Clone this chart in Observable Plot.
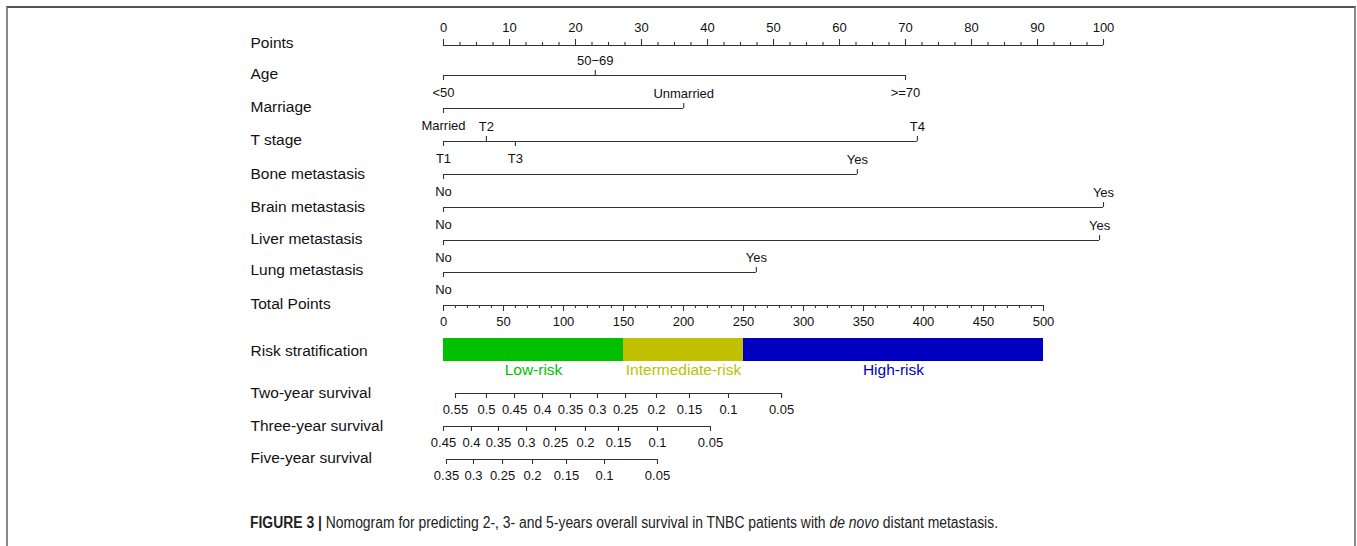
<!DOCTYPE html>
<html>
<head>
<meta charset="utf-8">
<script src="https://cdn.jsdelivr.net/npm/d3@7"></script>
<script src="https://cdn.jsdelivr.net/npm/@observablehq/plot@0.6"></script>
<style>
  html, body { margin: 0; padding: 0; background: #fff; }
  body { width: 1357px; height: 546px; position: relative; overflow: hidden; font-family: "Liberation Sans", Arial, sans-serif; }
  #frame { position: absolute; left: 6px; top: 6px; width: 1346px; height: 600px; border-top: 2px solid #555; border-left: 2px solid #888; border-right: 2px solid #888; z-index: 5; pointer-events: none; }
  #chart { position: absolute; left: 0; top: 0; }
  #caption { position: absolute; left: 250px; top: 514px; font-size: 16px; color: #222; white-space: nowrap; transform-origin: left center; }
  #caption b { font-weight: bold; }
</style>
</head>
<body>
<div id="chart"></div>
<div id="frame"></div>
<div id="caption"><b>FIGURE 3 |</b> Nomogram for predicting 2-, 3- and 5-years overall survival in TNBC patients with <i>de novo</i> distant metastasis.</div>
<script>
// ---------- data ----------
const rowNames = ["Points", "Age", "Marriage", "T stage", "Bone metastasis", "Brain metastasis",
  "Liver metastasis", "Lung metastasis", "Total Points", "Risk stratification",
  "Two-year survival", "Three-year survival", "Five-year survival"];

const pointsTickLabels = [0, 10, 20, 30, 40, 50, 60, 70, 80, 90, 100];
const pointsMinorStep = 2.5;
const totalTickLabels = [0, 50, 100, 150, 200, 250, 300, 350, 400, 450, 500];
const totalMinorStep = 10;

const ageLevels = ["<50", "50−69", ">=70"];
const agePoints = [0, 23, 70];
const ageAbove = [false, true, false];

const marriageLevels = ["Married", "Unmarried"];
const marriagePoints = [0, 36.4];
const marriageAbove = [false, true];

const tLevels = ["T1", "T2", "T3", "T4"];
const tPoints = [0, 6.5, 10.9, 71.8];
const tAbove = [false, true, false, true];

const binLevels = ["No", "Yes"];
const bonePoints = [0, 62.7];
const brainPoints = [0, 100];
const liverPoints = [0, 99.4];
const lungPoints = [0, 47.4];

const riskGroups = ["Low-risk", "Intermediate-risk", "High-risk"];
const riskBreaks = [0, 150, 250, 500];
const riskColors = ["#00c000", "#c0c000", "#0000c0"];

const twoYearLabels = ["0.55", "0.5", "0.45", "0.4", "0.35", "0.3", "0.25", "0.2", "0.15", "0.1", "0.05"];
const twoYearTotal = [10, 35.8, 59.2, 82.5, 105.8, 128.3, 151.7, 177.5, 205, 237.5, 281.7];
const threeYearLabels = ["0.45", "0.4", "0.35", "0.3", "0.25", "0.2", "0.15", "0.1", "0.05"];
const threeYearTotal = [0, 23.3, 45.8, 69.2, 93.3, 118.3, 145.8, 178.3, 222.5];
const fiveYearLabels = ["0.35", "0.3", "0.25", "0.2", "0.15", "0.1", "0.05"];
const fiveYearTotal = [2.5, 25, 49.2, 74.2, 102.5, 134.2, 178.3];

// ---------- layout (pixels) ----------
const W = 1357, H = 490;
const rowY = [43, 74, 107, 140, 174, 207, 239, 270, 304, 351, 393, 426, 458];
const lineY = [45, 75, 108, 141, 174, 207, 240, 272, 305, 0, 393, 426, 459];
const tickLen = 5, minorLen = 3;
const totalScale = 5.5; // total points per point-axis unit

// ---------- build tables ----------
const lines = [], ticks = [], labels = [];

// points axis (ticks up, labels above)
{
  const y = lineY[0];
  lines.push({x1: 0, x2: 100, y});
  d3.range(0, 100 + 1e-9, pointsMinorStep).forEach(v => {
    const major = pointsTickLabels.includes(v);
    ticks.push({x: v, y1: y, y2: y - (major ? tickLen + 1 : minorLen)});
  });
  pointsTickLabels.forEach(v => labels.push({x: v, y: 27, text: String(v)}));
}

function catRow(i, levels, pts, above) {
  const y = lineY[i];
  lines.push({x1: d3.min(pts), x2: d3.max(pts), y});
  levels.forEach((lv, k) => {
    const up = above[k];
    ticks.push({x: pts[k], y1: y, y2: up ? y - tickLen : y + tickLen});
    labels.push({x: pts[k], y: up ? y - 15 : y + 17, text: lv});
  });
}
catRow(1, ageLevels, agePoints, ageAbove);
catRow(2, marriageLevels, marriagePoints, marriageAbove);
catRow(3, tLevels, tPoints, tAbove);
catRow(4, binLevels, bonePoints, [false, true]);
catRow(5, binLevels, brainPoints, [false, true]);
catRow(6, binLevels, liverPoints, [false, true]);
catRow(7, binLevels, lungPoints, [false, true]);

// total points axis (ticks down, labels below)
{
  const y = lineY[8];
  lines.push({x1: 0, x2: 500 / totalScale, y});
  d3.range(0, 500 + 1e-9, totalMinorStep).forEach(v => {
    const major = totalTickLabels.includes(v);
    ticks.push({x: v / totalScale, y1: y, y2: y + (major ? tickLen + 1 : minorLen)});
  });
  totalTickLabels.forEach(v => labels.push({x: v / totalScale, y: 321, text: String(v)}));
}

// survival axes (ticks down, labels below)
function survRow(i, labs, tot) {
  const y = lineY[i];
  lines.push({x1: d3.min(tot) / totalScale, x2: d3.max(tot) / totalScale, y});
  labs.forEach((lb, k) => {
    ticks.push({x: tot[k] / totalScale, y1: y, y2: y + tickLen});
    labels.push({x: tot[k] / totalScale, y: y + 16, text: lb});
  });
}
survRow(10, twoYearLabels, twoYearTotal);
survRow(11, threeYearLabels, threeYearTotal);
survRow(12, fiveYearLabels, fiveYearTotal);

const riskRects = riskGroups.map((g, k) => ({
  group: g, x1: riskBreaks[k] / totalScale, x2: riskBreaks[k + 1] / totalScale,
  y1: 338, y2: 361, color: riskColors[k]
}));

const rowLabels = rowNames.map((n, i) => ({name: n, y: rowY[i]}));

const chart = Plot.plot({
  width: W, height: H,
  marginLeft: 0, marginRight: 0, marginTop: 0, marginBottom: 0,
  x: {domain: [0, 100], range: [443, 1103], axis: null},
  y: {domain: [0, H], range: [0, H], axis: null},
  style: {fontFamily: "'Liberation Sans', Arial, sans-serif", background: "white", color: "#111"},
  marks: [
    Plot.rect(riskRects, {x1: "x1", x2: "x2", y1: "y1", y2: "y2", fill: "color"}),
    Plot.text(riskRects, {x: d => (d.x1 + d.x2) / 2, y: 370, text: "group", fill: "color", fontSize: 15.5}),
    Plot.ruleY(lines, {x1: "x1", x2: "x2", y: "y", stroke: "#333", strokeWidth: 1.1}),
    Plot.ruleX(ticks, {x: "x", y1: "y1", y2: "y2", stroke: "#333", strokeWidth: 1.1}),
    Plot.text(labels, {x: "x", y: "y", text: "text", fontSize: 13, fill: "#111"}),
    Plot.text(rowLabels, {frameAnchor: "left", dx: 250, y: "y", text: "name", textAnchor: "start", fontSize: 15.5, fill: "#111"})
  ]
});
document.getElementById("chart").appendChild(chart);

// fit caption width to reference
const cap = document.getElementById("caption");
const w = cap.getBoundingClientRect().width;
cap.style.transform = `scaleX(${748 / w})`;
</script>
</body>
</html>
